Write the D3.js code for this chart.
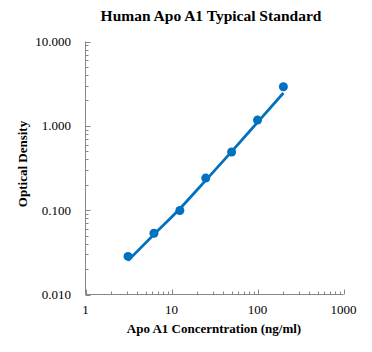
<!DOCTYPE html>
<html><head><meta charset="utf-8">
<script src="https://cdn.jsdelivr.net/npm/d3@7"></script>
<style>body{margin:0;background:#fff}svg{display:block}text{font-family:"Liberation Serif","Times New Roman",serif}</style>
</head><body>
<script>
const concentrations = [3.125, 6.25, 12.5, 25, 50, 100, 200];
const odValues = [0.0283, 0.0532, 0.099, 0.240, 0.490, 1.17, 2.91];
const fitValues = [0.0252, 0.0515, 0.104, 0.226, 0.495, 1.10, 2.45];
const xTicks = [1, 10, 100, 1000];
const yTicks = [0.01, 0.1, 1, 10];
const yTickLabels = ["0.010", "0.100", "1.000", "10.000"];

const W = 372, H = 352;
const svg = d3.select("body").append("svg").attr("width", W).attr("height", H);
const x = d3.scaleLog().domain([1, 1000]).range([85.5, 343.5]);
const y = d3.scaleLog().domain([0.01, 10]).range([294.5, 41.5]);
const axisColor = "#868686";

// minor ticks
const xMinor = [];
for (let d = 1; d < 1000; d *= 10) for (let k = 2; k <= 9; k++) xMinor.push(d * k);
const yMinor = [];
for (let d = 0.01; d < 10; d *= 10) for (let k = 2; k <= 9; k++) yMinor.push(d * k);

const g = svg.append("g");
g.selectAll(".xm").data(xMinor).join("line")
  .attr("x1", d => Math.round(x(d)) + 0.5).attr("x2", d => Math.round(x(d)) + 0.5)
  .attr("y1", 294.5).attr("y2", 291.5).attr("stroke", axisColor);
g.selectAll(".xM").data(xTicks).join("line")
  .attr("x1", d => Math.round(x(d)) + 0.5).attr("x2", d => Math.round(x(d)) + 0.5)
  .attr("y1", 294.5).attr("y2", 289.5).attr("stroke", axisColor);
g.selectAll(".ym").data(yMinor).join("line")
  .attr("y1", d => Math.round(y(d)) + 0.5).attr("y2", d => Math.round(y(d)) + 0.5)
  .attr("x1", 85.5).attr("x2", 88.5).attr("stroke", axisColor);
g.selectAll(".yM").data(yTicks).join("line")
  .attr("y1", d => Math.round(y(d)) + 0.5).attr("y2", d => Math.round(y(d)) + 0.5)
  .attr("x1", 85.5).attr("x2", 90.5).attr("stroke", axisColor);
g.append("line").attr("x1", 85.5).attr("x2", 85.5).attr("y1", 41.5).attr("y2", 294.5).attr("stroke", axisColor);
g.append("line").attr("x1", 85.5).attr("x2", 343.5).attr("y1", 294.5).attr("y2", 294.5).attr("stroke", axisColor);

// tick labels
svg.selectAll(".xl").data(xTicks).join("text")
  .attr("x", d => x(d)).attr("y", 314).attr("text-anchor", "middle")
  .attr("font-size", 13).attr("fill", "#000").text(d => d);
svg.selectAll(".yl").data(yTicks).join("text")
  .attr("x", 71).attr("y", d => y(d) + 4.5).attr("text-anchor", "end")
  .attr("font-size", 13).attr("fill", "#000").text((d, i) => yTickLabels[i]);

// fit line
const line = d3.line().x(d => x(d[0])).y(d => y(d[1])).curve(d3.curveMonotoneX);
svg.append("path").datum(concentrations.map((c, i) => [c, fitValues[i]]))
  .attr("d", line).attr("fill", "none").attr("stroke", "#0070C0").attr("stroke-width", 2.75);

// points
svg.selectAll(".pt").data(concentrations).join("circle")
  .attr("cx", d => x(d)).attr("cy", (d, i) => y(odValues[i])).attr("r", 4.5).attr("fill", "#0070C0");

// title & labels
svg.append("text").attr("x", 211).attr("y", 21).attr("text-anchor", "middle")
  .attr("font-size", 15.5).attr("font-weight", "bold").text("Human Apo A1 Typical Standard");
svg.append("text").attr("x", 214).attr("y", 333).attr("text-anchor", "middle")
  .attr("font-size", 13).attr("font-weight", "bold").text("Apo A1 Concerntration (ng/ml)");
svg.append("text").attr("transform", "translate(27,164) rotate(-90)").attr("text-anchor", "middle")
  .attr("font-size", 13).attr("font-weight", "bold").text("Optical Density");
</script>
</body></html>
